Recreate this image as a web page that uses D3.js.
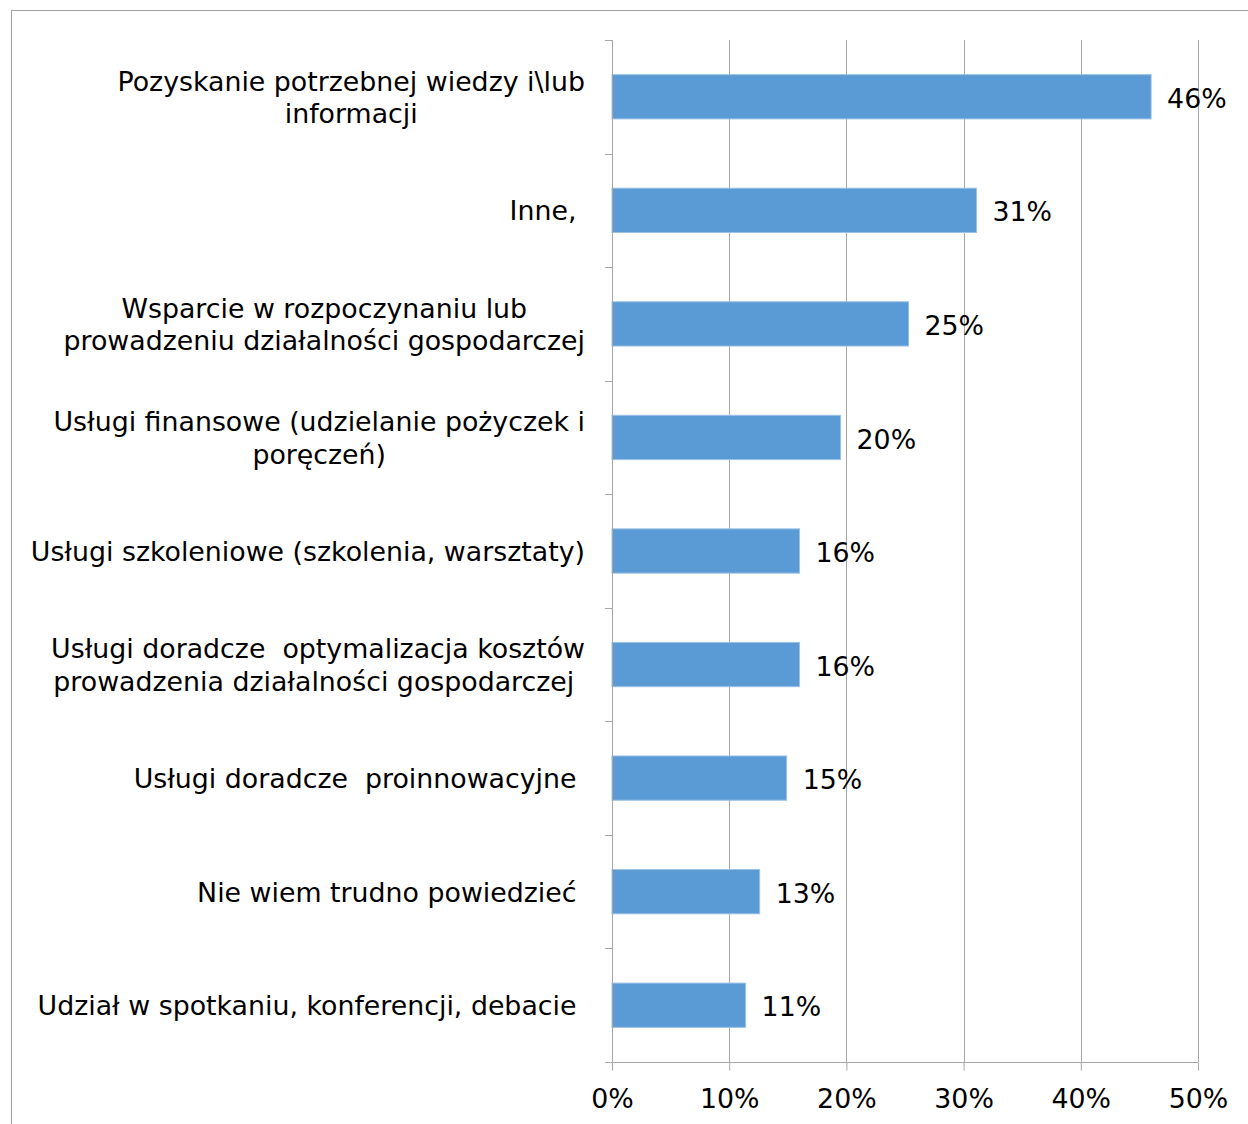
<!DOCTYPE html>
<html>
<head>
<meta charset="utf-8">
<script src="https://cdn.jsdelivr.net/npm/d3@7"></script>
<style>
  html, body { margin: 0; padding: 0; background: #fff; }
  svg text { font-family: "DejaVu Sans", Verdana, sans-serif; white-space: pre; }
</style>
</head>
<body>
<svg id="chart" width="1248" height="1124"></svg>
<script>
const categories = [
  "Pozyskanie potrzebnej wiedzy i\\lub\ninformacji",
  "Inne, ",
  "Wsparcie w rozpoczynaniu lub\nprowadzeniu działalności gospodarczej",
  "Usługi finansowe (udzielanie pożyczek i\nporęczeń)",
  "Usługi szkoleniowe (szkolenia, warsztaty)",
  "Usługi doradcze  optymalizacja kosztów\nprowadzenia działalności gospodarczej ",
  "Usługi doradcze  proinnowacyjne ",
  "Nie wiem trudno powiedzieć ",
  "Udział w spotkaniu, konferencji, debacie "
];
const values = [0.46, 0.311, 0.253, 0.195, 0.16, 0.16, 0.149, 0.126, 0.114];
const valueLabels = ["46%", "31%", "25%", "20%", "16%", "16%", "15%", "13%", "11%"];
const xTicks = [0, 0.1, 0.2, 0.3, 0.4, 0.5];
const xTickLabels = ["0%", "10%", "20%", "30%", "40%", "50%"];

const svg = d3.select("#chart");
const FS = 26.8;
const gridColor = "#a6a6a6";

// outer border
svg.append("rect")
  .attr("x", 11.5).attr("y", 10.5)
  .attr("width", 1400).attr("height", 1300)
  .attr("fill", "none").attr("stroke", "#a0a0a0").attr("stroke-width", 1);

const x = d3.scaleLinear().domain([0, 0.5]).range([612, 1198]);
const y = d3.scaleBand().domain(categories).range([40, 1062])
  .paddingInner(0.61).paddingOuter(0.305);

// vertical gridlines
svg.append("g").selectAll("line").data(xTicks.slice(1)).join("line")
  .attr("x1", d => Math.round(x(d)) + 0.5).attr("x2", d => Math.round(x(d)) + 0.5)
  .attr("y1", 40).attr("y2", 1062)
  .attr("stroke", gridColor).attr("stroke-width", 1);

// bars
svg.append("g").selectAll("rect").data(values).join("rect")
  .attr("x", x(0))
  .attr("y", (d, i) => y(categories[i]))
  .attr("width", d => x(d) - x(0))
  .attr("height", y.bandwidth())
  .attr("fill", "#5b9bd5")
  .attr("stroke", "#9cc2e5").attr("stroke-width", 1);

// y axis line + ticks at band boundaries
const yAxisG = svg.append("g");
yAxisG.append("line")
  .attr("x1", 612.5).attr("x2", 612.5).attr("y1", 40).attr("y2", 1062)
  .attr("stroke", gridColor);
yAxisG.selectAll("line.tick").data(d3.range(categories.length + 1)).join("line")
  .attr("class", "tick")
  .attr("x1", 605).attr("x2", 612)
  .attr("y1", i => Math.round(40 + i * (1022 / categories.length)) + 0.5)
  .attr("y2", i => Math.round(40 + i * (1022 / categories.length)) + 0.5)
  .attr("stroke", gridColor);

// x axis
const xAxis = d3.axisBottom(x).tickValues(xTicks)
  .tickFormat((d, i) => xTickLabels[i]).tickSize(8).tickSizeOuter(0);
const xg = svg.append("g").attr("transform", "translate(0,1062.5)").call(xAxis);
xg.select(".domain").attr("stroke", gridColor).attr("d", "M605,0H1198");
xg.selectAll(".tick line").attr("stroke", gridColor);
xg.selectAll(".tick text")
  .attr("y", 26).attr("dy", "0.71em")
  .attr("font-size", FS).attr("font-family", "DejaVu Sans, Verdana, sans-serif")
  .attr("fill", "#000");

// value labels
svg.append("g").selectAll("text").data(values).join("text")
  .attr("x", d => x(d) + 16)
  .attr("y", (d, i) => y(categories[i]) + y.bandwidth() / 2 + 1.5)
  .attr("dy", "0.36em")
  .attr("font-size", FS).attr("fill", "#000")
  .text((d, i) => valueLabels[i]);

// category labels
const labelRight = 585;
const lineH = 32.5;
const catG = svg.append("g");
categories.forEach((c, i) => {
  const lines = c.split("\n");
  const cy = y(c) + y.bandwidth() / 2 + 0.5;
  const t = catG.append("text")
    .attr("font-size", FS).attr("fill", "#000")
    .attr("xml:space", "preserve");
  const spans = lines.map((ln, j) => t.append("tspan")
    .attr("x", 0)
    .attr("y", cy + (j - (lines.length - 1) / 2) * lineH)
    .attr("dy", "0.36em")
    .text(ln));
  const widths = spans.map(s => s.node().getComputedTextLength());
  const W = d3.max(widths);
  const cx = labelRight - W / 2;
  spans.forEach(s => s.attr("x", cx).attr("text-anchor", "middle"));
});
</script>
</body>
</html>
